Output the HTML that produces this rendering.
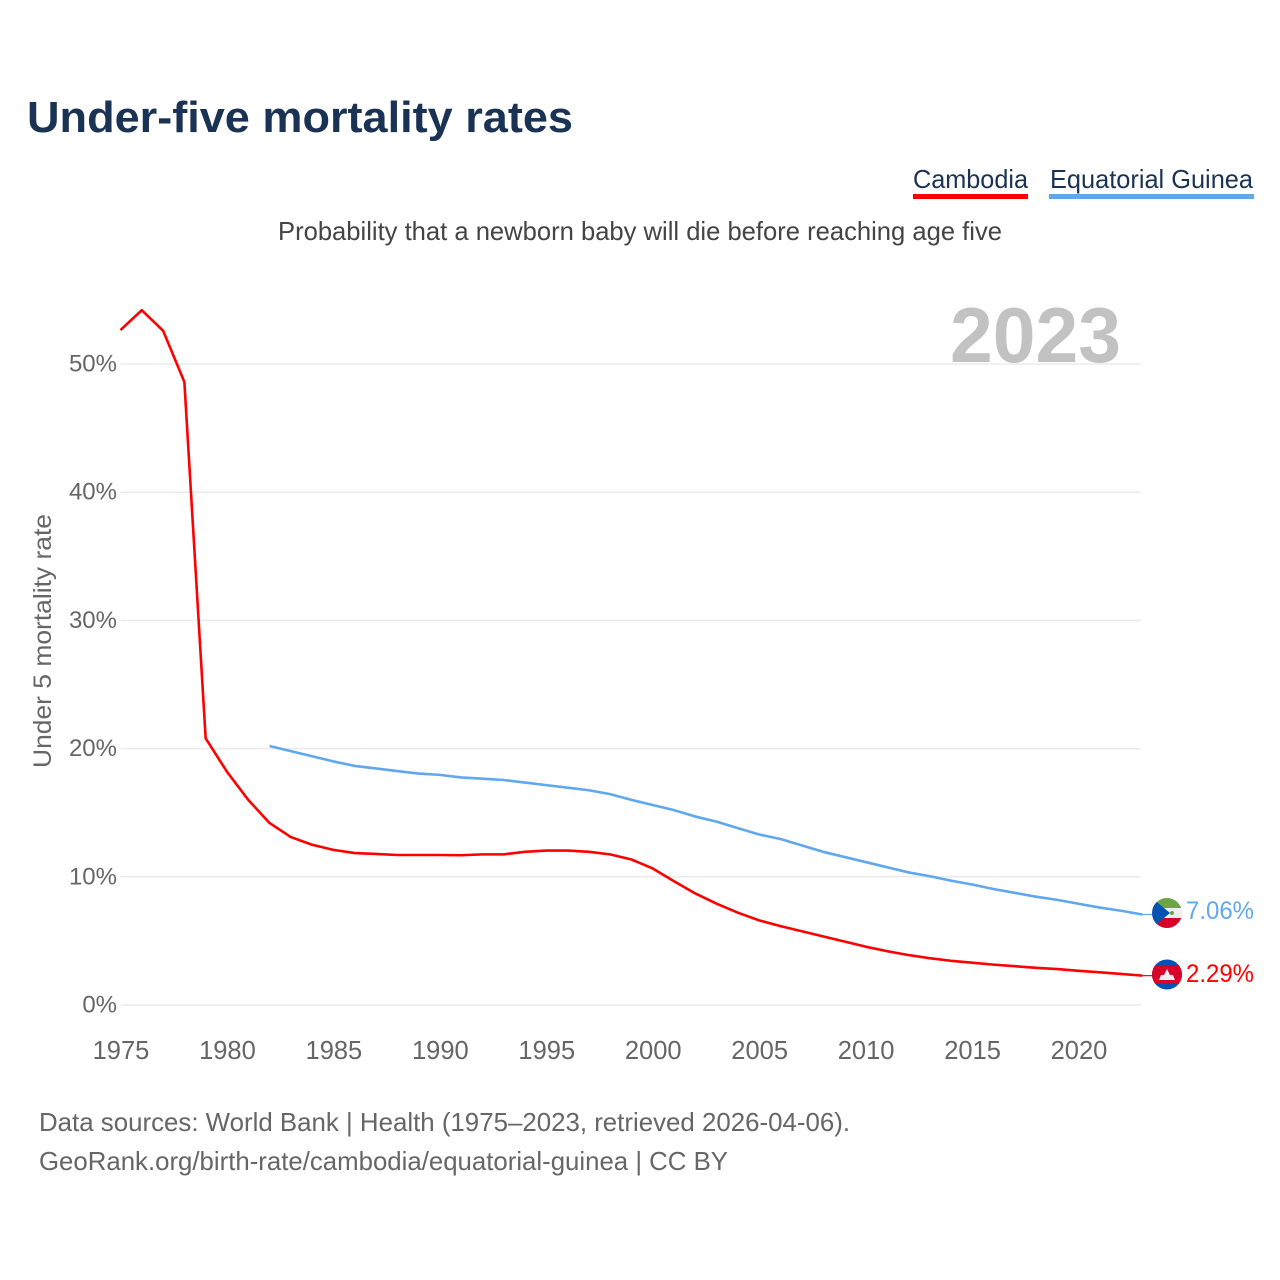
<!DOCTYPE html>
<html lang="en">
<head>
<meta charset="utf-8">
<title>Under-five mortality rates</title>
<style>
html,body{margin:0;padding:0;background:#fff}
svg{display:block}
text{font-family:"Liberation Sans",sans-serif}
</style>
</head>
<body>
<svg id="chart" width="1280" height="1280" viewBox="0 0 1280 1280" xmlns="http://www.w3.org/2000/svg">
  <rect width="1280" height="1280" fill="#fff"/>
  <defs>
    <clipPath id="clipGQ"><circle cx="1167" cy="913" r="15"/></clipPath>
    <clipPath id="clipKH"><circle cx="1167" cy="974.5" r="15"/></clipPath>
  </defs>
  <text x="27" y="132" font-size="44" font-weight="700" fill="#1a3354" textLength="546" lengthAdjust="spacingAndGlyphs">Under-five mortality rates</text>

  <g>
    <text x="913" y="188" font-size="26" fill="#1a3354" textLength="115" lengthAdjust="spacingAndGlyphs">Cambodia</text>
    <rect x="913" y="194" width="115" height="5" fill="#ff0000"/>
  </g>
  <g>
    <text x="1050" y="188" font-size="26" fill="#1a3354" textLength="203" lengthAdjust="spacingAndGlyphs">Equatorial Guinea</text>
    <rect x="1049" y="194" width="205" height="5" fill="#60a8ee"/>
  </g>

  <text x="278" y="240" font-size="26" fill="#444" textLength="724" lengthAdjust="spacingAndGlyphs">Probability that a newborn baby will die before reaching age five</text>

  <g id="grid"></g>
  <g id="yticks"></g>
  <g id="xticks"></g>

  <text x="1121" y="362" text-anchor="end" font-size="78" font-weight="700" fill="#c2c2c2" textLength="171" lengthAdjust="spacingAndGlyphs">2023</text>

  <text transform="translate(51,768) rotate(-90)" x="0" y="0" font-size="25" fill="#666" textLength="254" lengthAdjust="spacingAndGlyphs">Under 5 mortality rate</text>

  <g id="series"></g>

  <g clip-path="url(#clipGQ)">
    <rect x="1152" y="898" width="30" height="30" fill="#eeeeee"/>
    <rect x="1152" y="898" width="30" height="10" fill="#6da544"/>
    <rect x="1152" y="918" width="30" height="10" fill="#d80027"/>
    <polygon points="1152,898 1152,928 1170,913" fill="#0052b4"/>
    <circle cx="1172" cy="913" r="2" fill="#6da544"/>
  </g>
  <g clip-path="url(#clipKH)">
    <rect x="1152" y="959" width="30" height="31" fill="#0052b4"/>
    <rect x="1152" y="965" width="30" height="19" fill="#d80027"/>
    <polygon points="1159,980 1161,975 1164,975 1167,969 1170,975 1173,975 1175,980" fill="#f0f0f0"/>
  </g>

  <text id="label-gq" x="1186" y="919" font-size="25" fill="#60a8ee" textLength="68" lengthAdjust="spacingAndGlyphs">7.06%</text>
  <text id="label-kh" x="1186" y="982" font-size="25" fill="#ff0000" textLength="68" lengthAdjust="spacingAndGlyphs">2.29%</text>

  <text x="39" y="1131" font-size="26" fill="#666" textLength="811" lengthAdjust="spacingAndGlyphs">Data sources: World Bank | Health (1975–2023, retrieved 2026-04-06).</text>
  <text x="39" y="1170" font-size="26" fill="#666" textLength="689" lengthAdjust="spacingAndGlyphs">GeoRank.org/birth-rate/cambodia/equatorial-guinea | CC BY</text>
</svg>
<script>
var cambodiaStartYear = 1975;
var cambodiaValues = [52.65,54.2,52.6,48.6,20.8,18.2,16.0,14.2,13.1,12.5,12.1,11.85,11.78,11.7,11.7,11.7,11.68,11.75,11.75,11.95,12.05,12.05,11.95,11.75,11.35,10.65,9.65,8.7,7.9,7.2,6.6,6.15,5.75,5.35,4.95,4.55,4.2,3.9,3.65,3.45,3.3,3.15,3.03,2.9,2.8,2.67,2.55,2.42,2.29];
var guineaStartYear = 1982;
var guineaValues = [20.2,19.8,19.4,19.0,18.65,18.45,18.25,18.05,17.95,17.75,17.65,17.55,17.35,17.15,16.95,16.75,16.45,16.0,15.6,15.2,14.7,14.3,13.8,13.3,12.95,12.45,11.95,11.55,11.15,10.75,10.35,10.05,9.7,9.4,9.05,8.75,8.45,8.2,7.9,7.6,7.35,7.06];
var yTickValues = [0,10,20,30,40,50];
var xTickValues = [1975,1980,1985,1990,1995,2000,2005,2010,2015,2020];

var NS = 'http://www.w3.org/2000/svg';
function xScale(year){ return 120.5 + (year - 1975) * (1078.5 - 120.5) / 45; }
function yScale(v){ return 1005 - v * (1005 - 364) / 50; }
function make(tag, attrs, parent){
  var el = document.createElementNS(NS, tag);
  for (var k in attrs) el.setAttribute(k, attrs[k]);
  parent.appendChild(el);
  return el;
}
var grid = document.getElementById('grid');
var yticks = document.getElementById('yticks');
var xticks = document.getElementById('xticks');
var series = document.getElementById('series');

yTickValues.forEach(function(v){
  var line = make('line', {x1:120.5, x2:1141, y1:yScale(v), y2:yScale(v), stroke:'#ebebeb', 'stroke-width':1.5}, grid);
  
  
  var label = make('text', {x:117, y:yScale(v) + 7.5, 'text-anchor':'end', 'font-size':24, fill:'#666'}, yticks);
  label.textContent = v + '%';
  
  
});
xTickValues.forEach(function(y){
  var label = make('text', {x:xScale(y) + 0.5, y:1059, 'text-anchor':'middle', 'font-size':25.5, fill:'#666'}, xticks);
  label.textContent = y;
  
  
});
function drawLine(values, start, color){
  var pts = values.map(function(v, i){ return xScale(start + i).toFixed(2) + ',' + yScale(v).toFixed(2); });
  return make('polyline', {points:pts.join(' '), fill:'none', stroke:color, 'stroke-width':2.6, 'stroke-linejoin':'round'}, series);
}
var lineGuinea = drawLine(guineaValues, guineaStartYear, '#60a8ee');


var lineCambodia = drawLine(cambodiaValues, cambodiaStartYear, '#ff0000');



function leader(value, color){
  return make('line', {x1:xScale(2023), x2:1153, y1:yScale(value), y2:yScale(value), stroke:color, 'stroke-width':1.2}, series);
}
var leaderGuinea = leader(guineaValues[guineaValues.length - 1], '#60a8ee');


var leaderCambodia = leader(cambodiaValues[cambodiaValues.length - 1], '#ff0000');


</script>
</body>
</html>
